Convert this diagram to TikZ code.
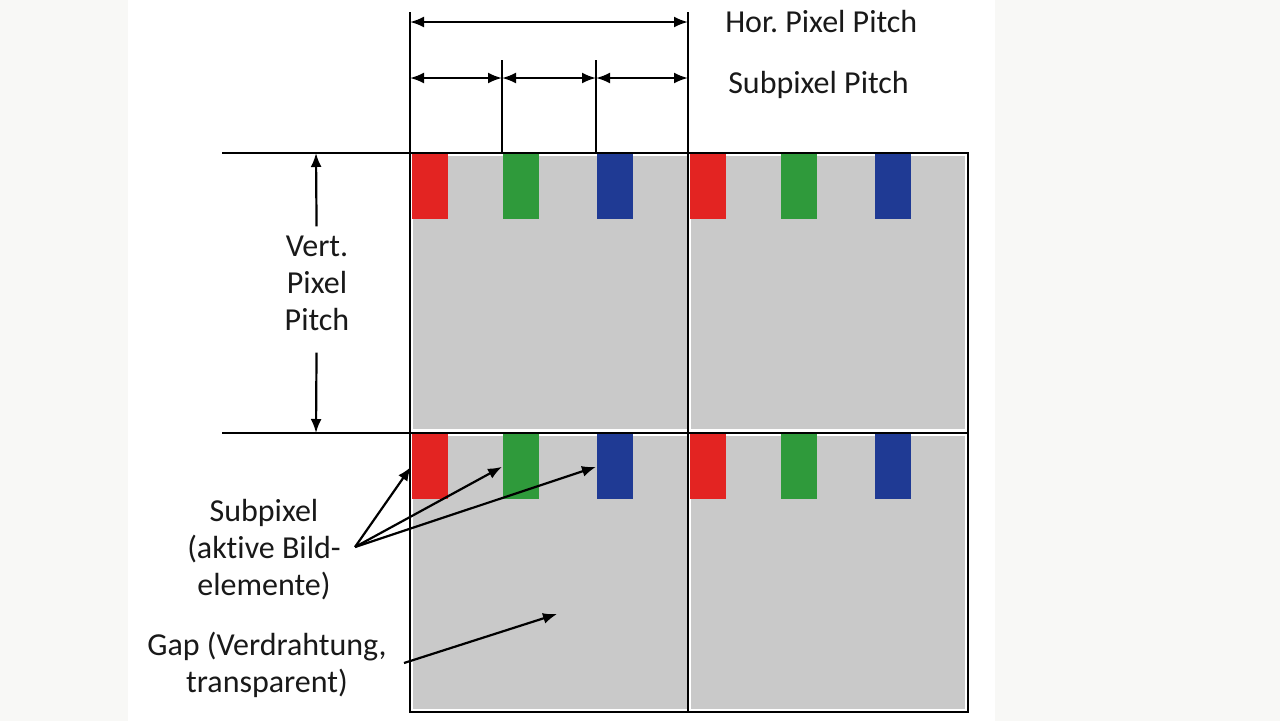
\documentclass[tikz,border=0pt]{standalone}
\usepackage{fontspec}
\setmainfont[Ligatures=NoCommon]{Carlito}
\usetikzlibrary{positioning, arrows.meta}
\definecolor{subred}{HTML}{E32422}
\definecolor{subgreen}{HTML}{2F9A3B}
\definecolor{subblue}{HTML}{1F3A94}
\definecolor{cellgray}{HTML}{C9C9C9}
\definecolor{margingray}{HTML}{F8F8F6}
\frenchspacing

\begin{document}
\begin{tikzpicture}[x=1pt, y=-1pt, line width=2.6pt,
	dim/.style={{Latex[length=14pt,width=11pt]}-{Latex[length=14pt,width=11pt]}, line width=2.2pt},
	ptr/.style={-{Latex[length=14pt,width=11pt]}, line width=2.2pt},
	sub/.style={minimum width=36pt, minimum height=65pt, inner sep=0pt, anchor=north west},
	lbl/.style={font=\fontsize{32}{37}\selectfont, text=black!90, align=center, inner sep=0pt}]
		\useasboundingbox (0,0) rectangle (1280,721);
		\fill[margingray] (0,0) rectangle (1280,721);
		\fill[white] (128,0) rectangle (995,721);
		% pixels and subpixels
		\foreach \cx in {410,688} \foreach \cy in {153,433} \fill[cellgray] (\cx+3,\cy+3) rectangle (\cx+277,\cy+276);
		\foreach \c/\cx in {a/410,b/688} \foreach \r/\cy in {1/153,2/433} {
			\node[sub, fill=subred] (R\c\r) at (\cx+1,\cy) {};
			\node[sub, fill=subgreen] (G\c\r) at (\cx+92,\cy) {};
			\node[sub, fill=subblue] (B\c\r) at (\cx+186,\cy) {};
		}
		\draw (222,153) -- (968,153) -- (968,712) -- (410,712) -- (410,12);
		\draw (222,433) -- (968,433);
		\draw (688,12) -- (688,712);
		\draw (502,60) -- (502,153); \draw (596,60) -- (596,153);
		% pitches
		\coordinate (h0) at (410,22); \coordinate (h1) at (688,22);
		\draw[dim] (h0) -- (h1);
		\foreach \a/\b in {410/502, 502/596, 596/688} {
			\coordinate (s\a) at (\a,78); \coordinate (e\b) at (\b,78);
			\draw[dim] (s\a) -- (e\b);
		}
		\node[lbl, anchor=west] (hor) at (724,22) {Hor. Pixel Pitch};
		\node[lbl, anchor=west] (subp) at (727,85) {Subpixel Pitch};
		\coordinate (v0) at (316,153); \coordinate (v1) at (316,433);
		\node[lbl] (vert) at (317,283) {Vert.\\Pixel\\Pitch};
		\draw[ptr, shorten <=8pt] (vert) -- (v0);
		\draw[ptr, shorten <=21pt] (vert) -- (v1);
		% labels below
		\node[lbl] (subl) at (264,550) {Subpixel\\(aktive Bild-\\elemente)};
		\coordinate (sa) at (355,547);
		\draw[ptr] (sa) -- (Ra2.west);
		\draw[ptr] (sa) -- (Ga2.west);
		\draw[ptr] (sa) -- (Ba2.west);
		\node[lbl] (gap) at (267,665) {Gap (Verdrahtung,\\transparent)};
		\coordinate (gs) at (404,663); \coordinate (gt) at (557,614);
		\draw[ptr] (gs) -- (gt);
	\end{tikzpicture}
\end{document}
